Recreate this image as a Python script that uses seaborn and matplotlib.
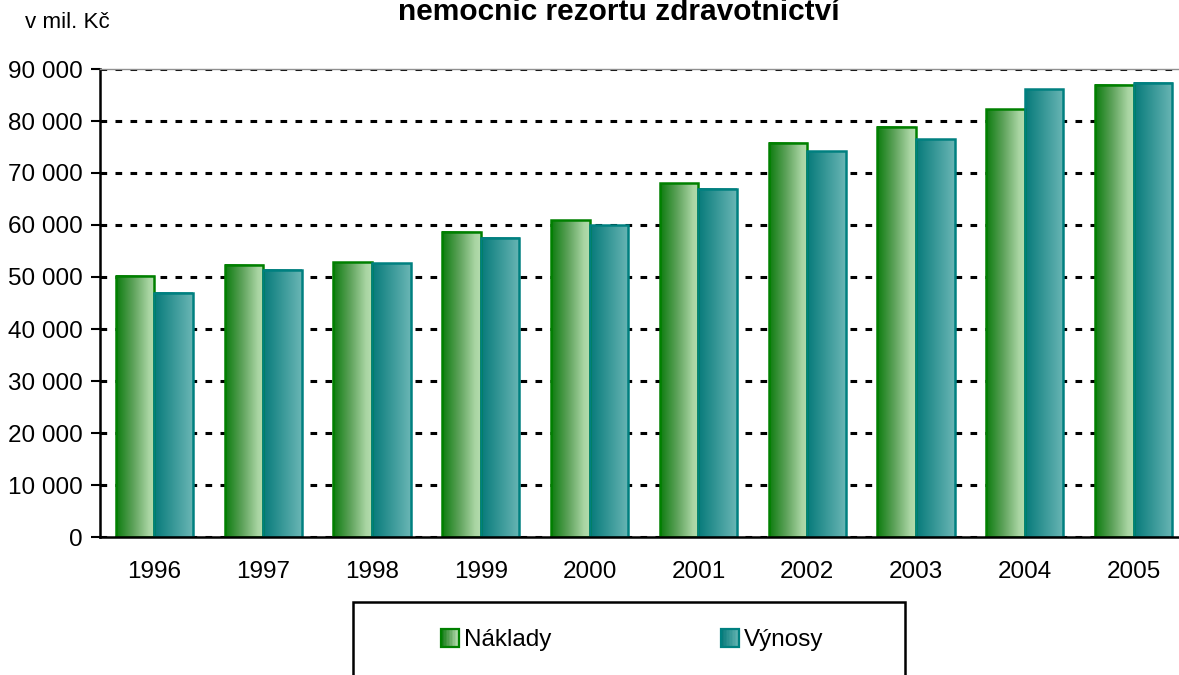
import numpy as np
import pandas as pd
import matplotlib
matplotlib.use("Agg")
import matplotlib.pyplot as plt
import seaborn as sns
from matplotlib import font_manager
from matplotlib.colors import LinearSegmentedColormap
from matplotlib.patches import Rectangle
from matplotlib.legend_handler import HandlerBase

years = ["1996", "1997", "1998", "1999", "2000", "2001", "2002", "2003", "2004", "2005"]
naklady = [50200, 52400, 52850, 58700, 60900, 68000, 75800, 78850, 82300, 87000]
vynosy = [47000, 51400, 52650, 57550, 59950, 67000, 74200, 76500, 86100, 87400]
series = ["Náklady", "Výnosy"]
yticks = [0, 10000, 20000, 30000, 40000, 50000, 60000, 70000, 80000, 90000]

sns.set_theme(style="white")
names = {f.name for f in font_manager.fontManager.ttflist}
narrow = "Liberation Sans Narrow" in names
base_font = "Liberation Sans Narrow" if narrow else "Liberation Sans"
fs = 19.5 if narrow else 17.5
plt.rcParams["font.family"] = [base_font, "DejaVu Sans"]
plt.rcParams["lines.scale_dashes"] = False
plt.rcParams["text.color"] = "black"
plt.rcParams["xtick.color"] = "black"
plt.rcParams["ytick.color"] = "black"
plt.rcParams["xtick.labelcolor"] = "black"
plt.rcParams["ytick.labelcolor"] = "black"

df = pd.DataFrame({
    "Rok": years * 2,
    "Hodnota": naklady + vynosy,
    "Serie": [series[0]] * len(years) + [series[1]] * len(years),
})

cm_n = LinearSegmentedColormap.from_list("n", [(0, "#0c7c0e"), (0.45, "#5fa35c"), (0.85, "#a9d5a3"), (1, "#b4dcae")])
cm_v = LinearSegmentedColormap.from_list("v", [(0, "#067a7a"), (1, "#6ab6b5")])
edge = {series[0]: "#008000", series[1]: "#008080"}
cmaps = {series[0]: cm_n, series[1]: cm_v}

fig = plt.figure(figsize=(11.79, 6.75), dpi=100)
ax = fig.add_axes([100 / 1179, 1 - 537 / 675, 1088 / 1179, (537 - 69) / 675])

sns.barplot(data=df, x="Rok", y="Hodnota", hue="Serie", hue_order=series,
            palette=["#6aa86a", "#3a9a9a"], width=0.708, gap=0, saturation=1,
            legend=False, ax=ax)

grad = np.linspace(0, 1, 256).reshape(1, -1)
for s, cont in zip(series, ax.containers):
    for rect in cont:
        x0, w, h = rect.get_x(), rect.get_width(), rect.get_height()
        ax.imshow(grad, cmap=cmaps[s], extent=[x0, x0 + w, 0, h], aspect="auto",
                  interpolation="bilinear", zorder=1.5)
        rect.set_facecolor("none")
        rect.set_edgecolor(edge[s])
        rect.set_linewidth(1.8)
        rect.set_zorder(2)

ax.set_xlim(-0.5, len(years) - 0.5)
ax.set_ylim(0, 90000)
ax.set_xlabel("")
ax.set_ylabel("")

ax.set_yticks(yticks)
ax.set_yticklabels([f"{v:,}".replace(",", " ") for v in yticks], fontsize=fs)
ax.set_axisbelow(True)
ax.yaxis.grid(True, color="black", linewidth=2.2, linestyle=(0, (4.8, 6.0)))
ax.xaxis.grid(False)

ax.set_xticks(np.arange(-0.5, len(years), 1.0))
ax.set_xticklabels([])
ax.set_xticks(np.arange(len(years)), minor=True)
ax.set_xticklabels(years, minor=True, fontsize=fs)
ax.tick_params(axis="x", which="major", direction="out", length=6.5, width=1.5, color="black")
ax.tick_params(axis="x", which="minor", length=0, pad=17.5)
ax.tick_params(axis="y", direction="out", length=6.5, width=1.5, color="black", pad=6, left=True)

for side in ["left", "bottom"]:
    ax.spines[side].set_color("black")
    ax.spines[side].set_linewidth(1.8)
ax.spines["top"].set_color("#909090")
ax.spines["top"].set_linewidth(1.0)
ax.spines["right"].set_visible(False)

fig.text(0.525, 1 - 20 / 675, "nemocnic rezortu zdravotnictví", fontsize=21.5,
         fontweight="bold", ha="center", va="baseline", color="black",
         family=["Liberation Sans", "DejaVu Sans"])
fig.text(25 / 1179, 1 - 22 / 675, "v mil. Kč", fontsize=fs * 0.92, ha="left", va="center", color="black")

# legend box
fig.patches.append(Rectangle((353 / 1179, -0.05), 552 / 1179, (675 - 602) / 675 + 0.05,
                             transform=fig.transFigure, facecolor="white",
                             edgecolor="black", linewidth=1.8, zorder=0))


class GradHandler(HandlerBase):
    def __init__(self, cmap, ec):
        super().__init__()
        self.cmap = cmap
        self.ec = ec

    def create_artists(self, legend, orig_handle, xdescent, ydescent, width, height, fontsize, trans):
        arts = []
        n = 12
        for i in range(n):
            r = Rectangle((-xdescent + width * i / n, -ydescent), width / n, height,
                          facecolor=self.cmap((i + 0.5) / n), edgecolor="none", transform=trans)
            arts.append(r)
        arts.append(Rectangle((-xdescent, -ydescent), width, height, facecolor="none",
                              edgecolor=self.ec, linewidth=1.6, transform=trans))
        return arts


for s, xpos in zip(series, [441, 721]):
    h = Rectangle((0, 0), 1, 1)
    leg = fig.legend([h], [s], loc="center left", bbox_to_anchor=(xpos / 1179, 1 - 640 / 675),
                     frameon=False, fontsize=fs, handlelength=0.75, handleheight=0.8,
                     handletextpad=0.2, borderpad=0, borderaxespad=0,
                     handler_map={h: GradHandler(cmaps[s], edge[s])})
    for t in leg.get_texts():
        t.set_color("black")

fig.savefig("out.png", dpi=100)
